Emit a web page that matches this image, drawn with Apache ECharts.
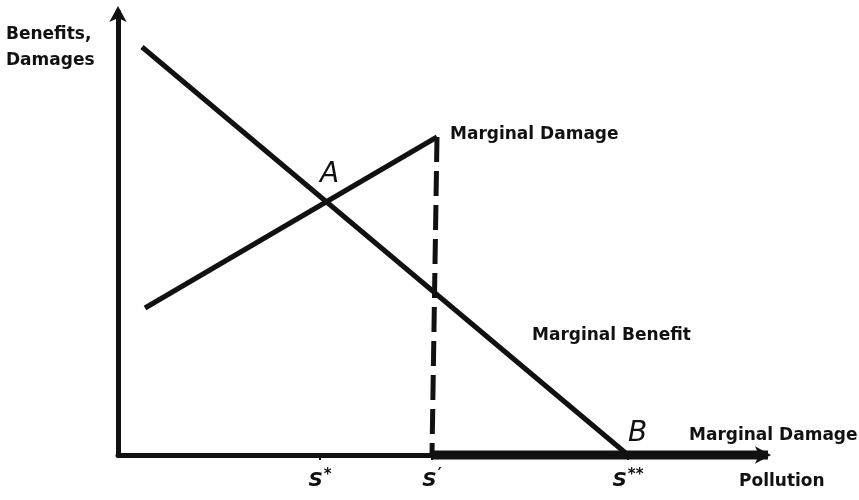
<!DOCTYPE html>
<html>
<head>
<meta charset="utf-8">
<script src="https://cdn.jsdelivr.net/npm/echarts@6/dist/echarts.min.js"></script>
<style>
  html, body { margin: 0; padding: 0; background: #fff; }
  #chart { width: 859px; height: 500px; }
</style>
</head>
<body>
<div id="chart"></div>
<script>
// data in chart units (pollution along x, benefits/damages along y)
var benefitLine = [[24, 408], [510, 0]];
var damageLine = [[27, 147], [319, 318]];
var damageDrop = [[319, 318], [314, 0]];
var damageZero = [[314, 0], [650, 0]];
var tickValues = [202, 314, 510];
var tickNames = ["S*", "S′", "S**"];
var notes = [
  { name: "Marginal Damage", value: [332, 320] },
  { name: "Marginal Benefit", value: [414, 119] },
  { name: "Marginal Damage", value: [571, 19] }
];
var points = [
  { name: "A", value: [202, 280] },
  { name: "B", value: [510, 21] }
];

var INK = "#111";
var FONT = "DejaVu Sans";

var chart = echarts.init(document.getElementById("chart"));

function tickLabel(v) {
  var i = tickValues.indexOf(v);
  if (i < 0) return "";
  var t = tickNames[i];
  return "{s|S}{sup|" + t.slice(1) + "}";
}

chart.setOption({
  animation: false,
  grid: { left: 118, right: 94, top: 12, bottom: 45 },
  xAxis: {
    type: "value",
    min: 0,
    max: 647,
    splitLine: { show: false },
    axisLine: {
      onZero: false,
      symbol: ["none", "arrow"],
      symbolSize: [13, 16],
      symbolOffset: [0, 6],
      lineStyle: { color: INK, width: 5 }
    },
    axisTick: { customValues: tickValues, length: 5, lineStyle: { color: INK, width: 2 } },
    axisLabel: {
      customValues: tickValues,
      margin: 13,
      formatter: tickLabel,
      rich: {
        s: { fontFamily: FONT, fontStyle: "italic", fontWeight: "bold", fontSize: 20, color: INK },
        sup: { fontFamily: FONT, fontWeight: "bold", fontSize: 15, color: INK, verticalAlign: "top", padding: [0, 0, 10, 1] }
      }
    }
  },
  yAxis: {
    type: "value",
    min: 0,
    max: 443,
    splitLine: { show: false },
    axisLine: {
      onZero: false,
      symbol: ["none", "arrow"],
      symbolSize: [13, 16],
      symbolOffset: [0, 6],
      lineStyle: { color: INK, width: 5 }
    },
    axisTick: { show: false },
    axisLabel: { show: false }
  },
  graphic: [
    {
      type: "text", left: 6, top: 22,
      style: { text: "Benefits,\nDamages", fontFamily: FONT, fontWeight: "bold", fontSize: 17, lineHeight: 26, fill: INK }
    },
    {
      type: "text", left: 739, top: 473,
      style: { text: "Pollution", fontFamily: FONT, fontWeight: "bold", fontSize: 17, fill: INK }
    }
  ],
  series: [
    {
      type: "line", data: benefitLine, symbol: "none", clip: false,
      lineStyle: { color: INK, width: 5 }
    },
    {
      type: "line", data: damageLine, symbol: "none", clip: false,
      lineStyle: { color: INK, width: 5 }
    },
    {
      type: "line", data: damageDrop, symbol: "none", clip: false,
      lineStyle: { color: INK, width: 5, type: [25, 9] }
    },
    {
      type: "line", data: damageZero, symbol: "none", clip: false,
      lineStyle: { color: INK, width: 9 }
    },
    {
      type: "scatter", data: notes, symbolSize: 0, clip: false,
      itemStyle: { opacity: 1 },
      label: {
        show: true, position: "right", distance: 0,
        formatter: function (p) { return p.name; },
        fontFamily: FONT, fontWeight: "bold", fontSize: 17, color: INK
      }
    },
    {
      type: "scatter", data: points, symbolSize: 0, clip: false,
      itemStyle: { opacity: 1 },
      label: {
        show: true, position: "right", distance: 0,
        formatter: function (p) { return p.name; },
        fontFamily: FONT, fontStyle: "italic", fontSize: 28, color: INK
      }
    }
  ]
});
</script>
</body>
</html>
